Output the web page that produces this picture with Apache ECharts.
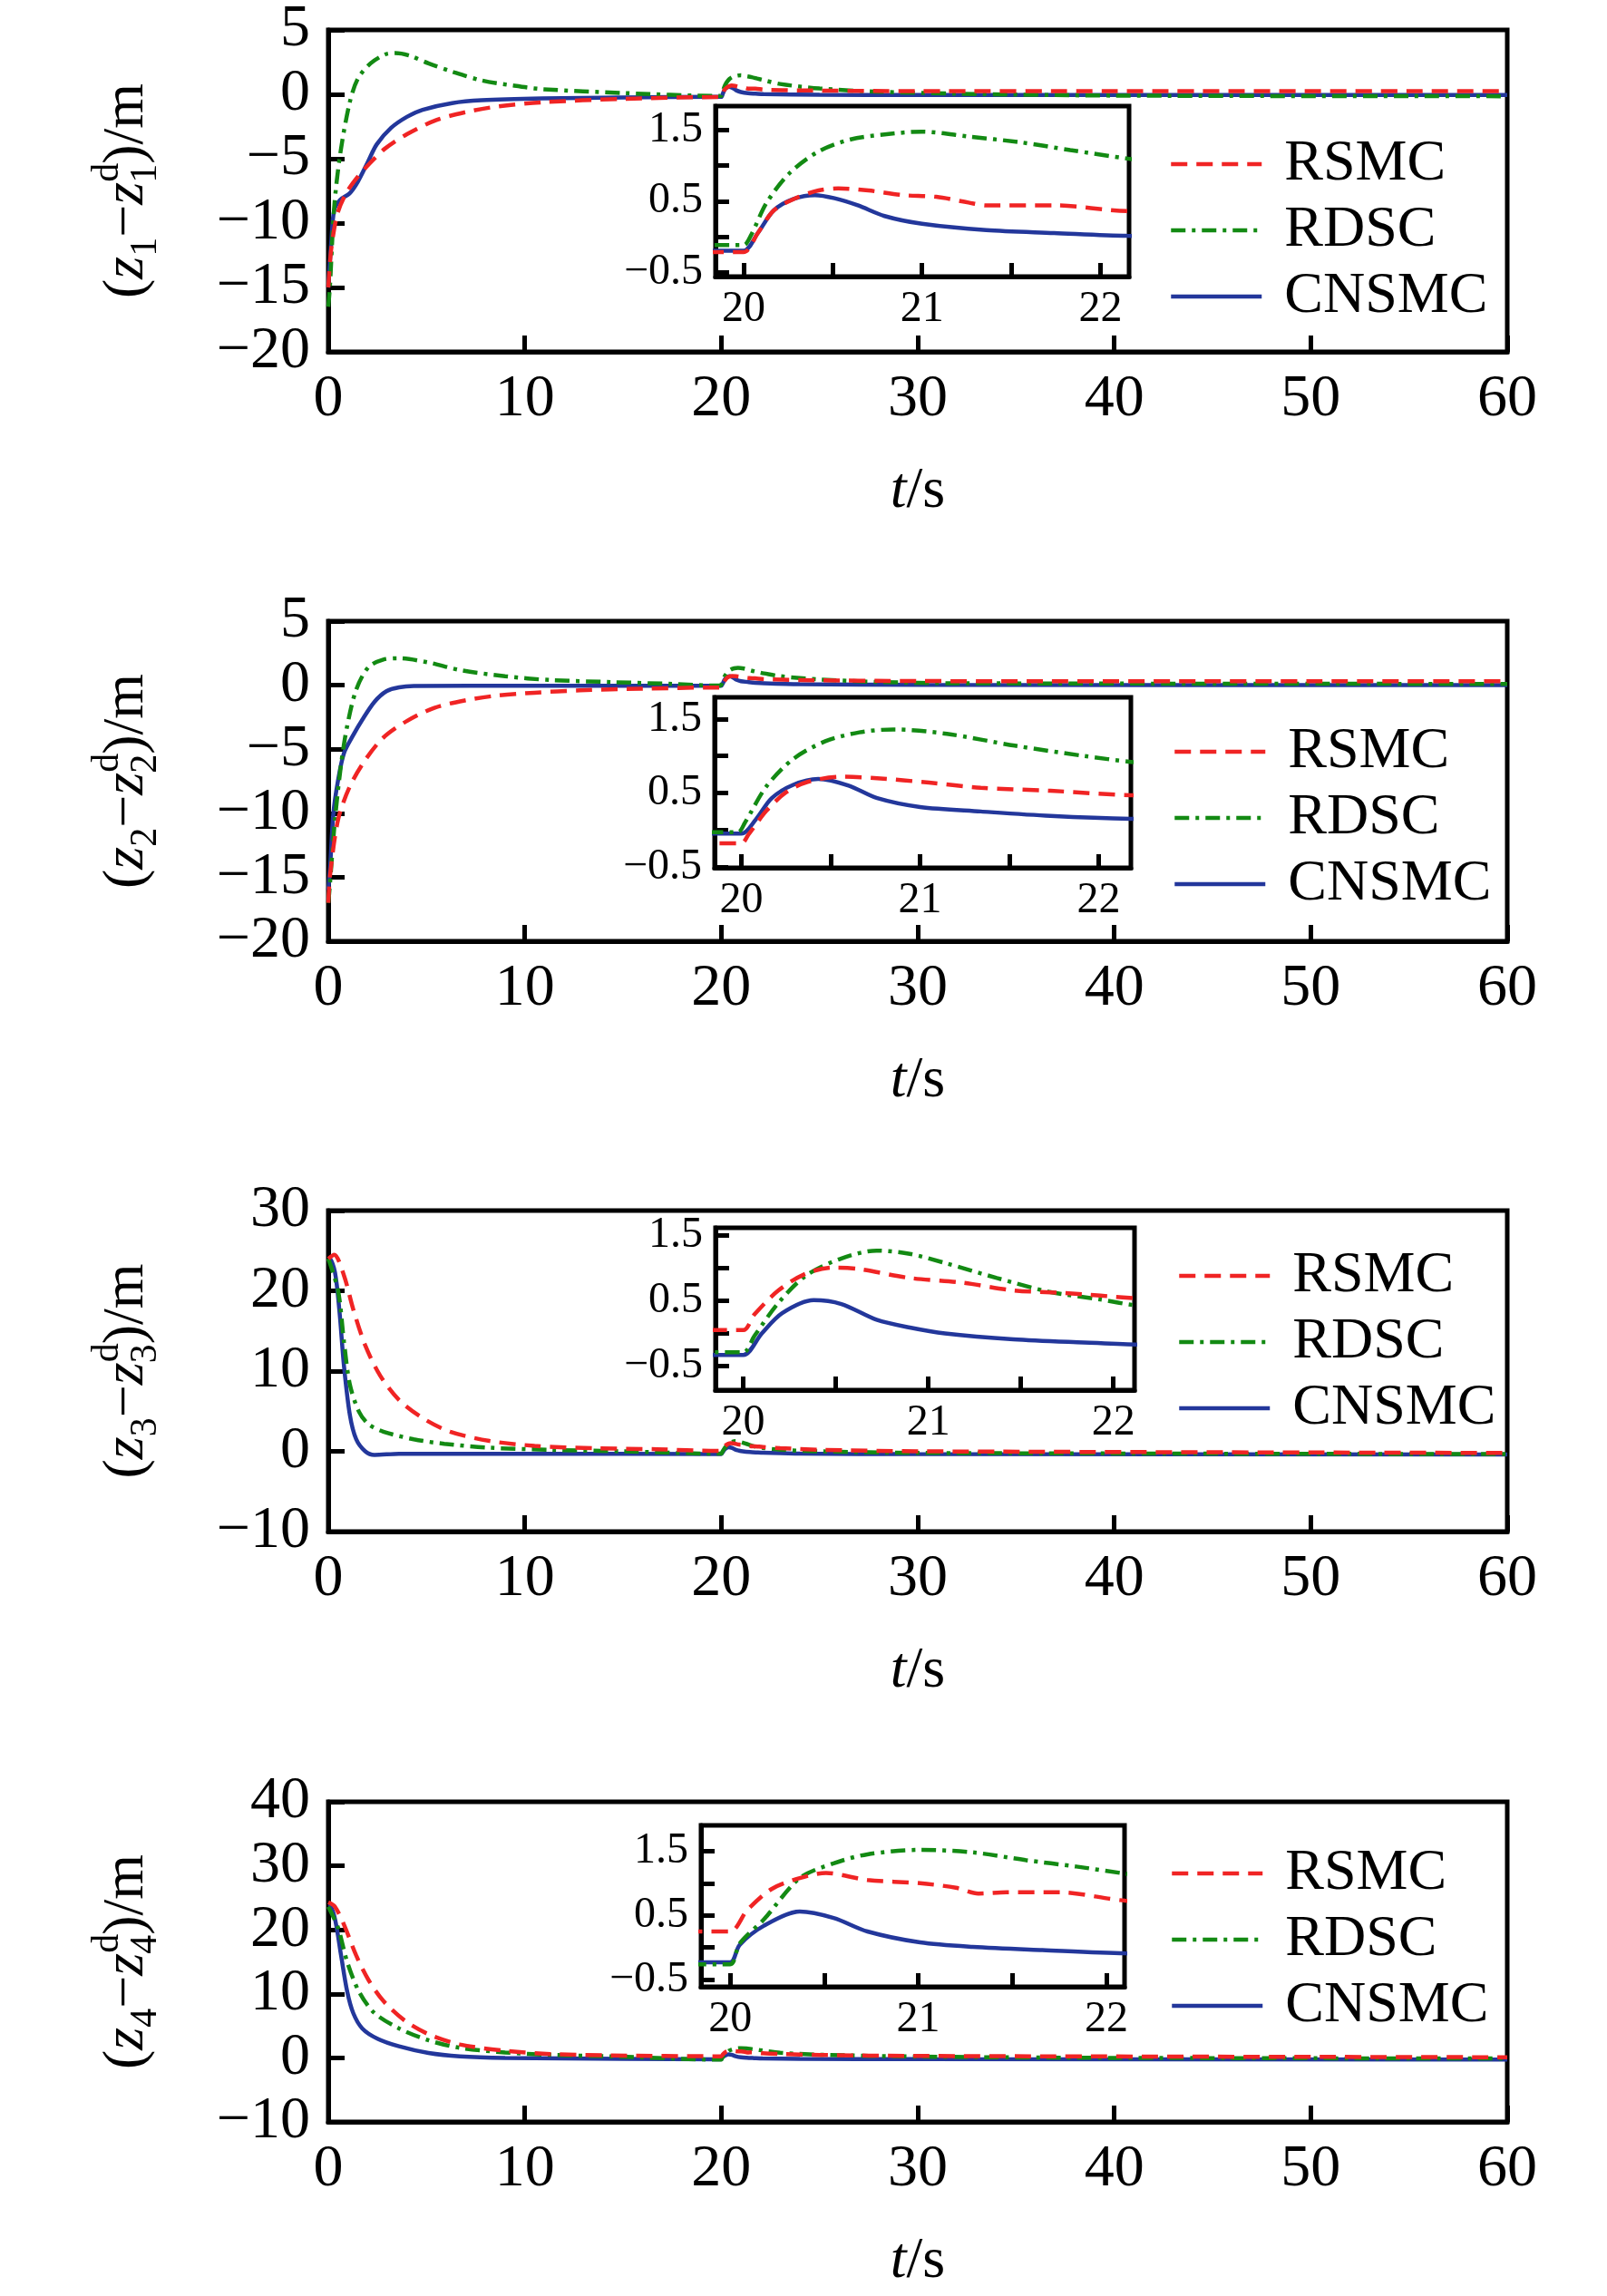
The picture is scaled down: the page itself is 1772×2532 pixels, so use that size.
<!DOCTYPE html>
<html><head><meta charset="utf-8">
<script src="https://cdn.jsdelivr.net/npm/echarts@6/dist/echarts.min.js"></script>
<style>html,body{margin:0;padding:0;background:#fff}#c{width:1772px;height:2532px}</style>
</head><body><div id="c"></div>
<script>
// ---------- labels / ticks ----------
const seriesNames = ['RSMC', 'RDSC', 'CNSMC'];
const insetXLabels = [20, 21, 22];
const insetXTicks = [20, 20.5, 21, 21.5, 22];
const insetYLabels = [-0.5, 0.5, 1.5];
const insetYTicks = [-0.5, 0, 0.5, 1, 1.5];
const mainYRanges = [[-20, 5, 5], [-20, 5, 5], [-10, 30, 10], [-10, 40, 10]];
const insetXRanges = [[19.843, 22.16], [19.85, 22.18], [19.85, 22.114], [19.845, 22.097]];
const insetYRanges = [[-0.564, 1.84], [-0.512, 1.794], [-0.87, 1.62], [-0.61, 1.90]];

// ---------- panel 1 ----------
const p1_RSMC_t = [0, 0.15, 0.46, 0.9, 1.5, 2.15, 2.9, 4, 5.5, 7.1, 8.6, 10.9, 15, 19.8, 20.0, 20.08, 20.17, 20.3, 20.42, 20.53, 20.70, 20.89, 21.08, 21.26, 21.36, 21.74, 22.15, 24, 30, 40, 60];
const p1_RSMC_y = [-15, -12, -9.3, -7.7, -6.4, -5.3, -4.2, -3.1, -2.0, -1.35, -0.95, -0.62, -0.35, -0.22, -0.22, 0.05, 0.37, 0.55, 0.65, 0.68, 0.65, 0.585, 0.56, 0.48, 0.44, 0.44, 0.36, 0.3, 0.25, 0.25, 0.25];
const p1_RDSC_t = [0, 0.08, 0.3, 0.6, 1.08, 1.5, 2.15, 2.9, 3.4, 4.15, 5.1, 6.3, 7.8, 9.4, 10.9, 15, 19.8, 20.0, 20.04, 20.13, 20.26, 20.42, 20.6, 20.79, 21.0, 21.26, 21.55, 21.83, 22.15, 23, 25, 28, 32, 40, 60];
const p1_RDSC_y = [-16.5, -15, -8.8, -4.7, -0.7, 1.2, 2.4, 3.1, 3.2, 3.0, 2.4, 1.76, 1.08, 0.68, 0.4, 0.1, -0.12, -0.12, 0.01, 0.48, 0.9, 1.2, 1.37, 1.44, 1.48, 1.41, 1.33, 1.22, 1.1, 0.8, 0.45, 0.2, 0.05, -0.1, -0.15];
const p1_CNSMC_t = [0, 0.15, 0.3, 0.6, 1.08, 1.5, 2, 2.46, 3.2, 4, 4.8, 6.3, 7.8, 10.9, 15, 19.8, 20.0, 20.08, 20.17, 20.28, 20.40, 20.51, 20.64, 20.79, 21.0, 21.36, 21.74, 22.15, 25, 30, 60];
const p1_CNSMC_y = [-15, -11.5, -9, -8.2, -7.7, -6.8, -5.3, -3.9, -2.6, -1.75, -1.2, -0.68, -0.46, -0.32, -0.25, -0.2, -0.2, 0.05, 0.37, 0.53, 0.585, 0.54, 0.44, 0.29, 0.18, 0.09, 0.05, 0.01, -0.03, -0.05, -0.05];

// ---------- panel 2 ----------
const p2_RSMC_t = [0, 0.1, 0.5, 1.1, 1.9, 2.8, 4.0, 5.4, 7.0, 8.5, 10.5, 12.8, 15.9, 19.8, 20.0, 20.04, 20.14, 20.25, 20.37, 20.56, 20.76, 21.05, 21.34, 21.73, 22.18, 24, 30, 60];
const p2_RSMC_y = [-17, -14.7, -10.5, -7.9, -5.8, -4.1, -2.8, -1.77, -1.18, -0.83, -0.59, -0.4, -0.28, -0.18, -0.18, -0.06, 0.26, 0.51, 0.65, 0.72, 0.70, 0.64, 0.57, 0.53, 0.47, 0.4, 0.32, 0.3];
const p2_RDSC_t = [0, 0.06, 0.34, 0.65, 0.96, 1.42, 2.04, 2.8, 3.58, 5.1, 6.7, 9.0, 11.3, 14.4, 17.5, 19.8, 19.98, 20.02, 20.14, 20.29, 20.47, 20.66, 20.85, 21.15, 21.53, 21.92, 22.18, 23, 25, 28, 32, 60];
const p2_RDSC_y = [-17, -16, -10.5, -6.2, -3.2, -0.35, 1.4, 2.0, 2.1, 1.77, 1.18, 0.7, 0.4, 0.24, 0.1, -0.03, -0.03, 0.10, 0.59, 0.96, 1.2, 1.32, 1.36, 1.3, 1.14, 1.0, 0.92, 0.7, 0.45, 0.25, 0.15, 0.1];
const p2_CNSMC_t = [0, 0.1, 0.26, 0.5, 0.8, 1.27, 1.73, 2.35, 2.96, 3.6, 4.35, 10, 19.8, 20.0, 20.08, 20.17, 20.29, 20.43, 20.6, 20.76, 21.0, 21.34, 21.73, 22.18, 24, 30, 60];
const p2_CNSMC_y = [-16, -14, -10, -7.4, -5.3, -3.9, -2.7, -1.3, -0.47, -0.17, -0.07, -0.05, -0.05, -0.05, 0.14, 0.43, 0.61, 0.69, 0.6, 0.43, 0.31, 0.25, 0.19, 0.15, 0.08, 0.03, 0.0];

// ---------- panel 3 ----------
const p3_RSMC_t = [0, 0.3, 0.8, 1.27, 1.88, 2.65, 3.6, 4.8, 6.2, 8.2, 10.5, 13.6, 16.7, 19.8, 20.0, 20.06, 20.19, 20.34, 20.49, 20.62, 20.9, 21.18, 21.46, 21.74, 22.12, 23, 25, 30, 60];
const p3_RSMC_y = [24, 24.5, 21.9, 17.7, 13.2, 9.4, 6.4, 4.15, 2.45, 1.3, 0.68, 0.38, 0.26, 0.05, 0.05, 0.29, 0.66, 0.92, 1.01, 0.99, 0.85, 0.78, 0.66, 0.62, 0.54, 0.4, 0.2, 0.0, -0.2];
const p3_RDSC_t = [0, 0.5, 0.8, 1.1, 1.57, 2.04, 2.8, 4.35, 5.9, 8.2, 11.3, 15, 19.8, 20.0, 20.06, 20.19, 20.34, 20.53, 20.72, 20.9, 21.09, 21.37, 21.65, 21.93, 22.12, 23, 25, 30, 60];
const p3_RDSC_y = [24, 20, 13.6, 8.3, 4.9, 3.4, 2.45, 1.5, 0.94, 0.45, 0.19, 0.0, -0.29, -0.29, -0.04, 0.47, 0.89, 1.15, 1.27, 1.22, 1.08, 0.85, 0.64, 0.52, 0.43, 0.2, 0.0, -0.2, -0.35];
const p3_CNSMC_t = [0, 0.06, 0.34, 0.57, 0.8, 1.1, 1.42, 1.88, 2.35, 3.6, 10, 19.8, 20.0, 20.1, 20.21, 20.38, 20.53, 20.72, 20.9, 21.09, 21.46, 21.84, 22.12, 24, 30, 60];
const p3_CNSMC_y = [24, 24, 22.3, 17.4, 10.6, 4.5, 1.5, 0, -0.45, -0.3, -0.3, -0.33, -0.33, 0.0, 0.31, 0.51, 0.45, 0.21, 0.09, 0.0, -0.09, -0.14, -0.17, -0.28, -0.35, -0.4];

// ---------- panel 4 ----------
const p4_RSMC_t = [0, 0.34, 0.8, 1.42, 2.04, 2.8, 3.9, 5.1, 6.7, 9, 11.3, 14.4, 19.8, 20.0, 20.09, 20.22, 20.37, 20.51, 20.73, 21.01, 21.2, 21.32, 21.47, 21.75, 22.1, 23, 25, 30, 60];
const p4_RSMC_y = [24.3, 23.6, 20.8, 16, 12.2, 8.9, 5.8, 3.7, 2.1, 1.1, 0.6, 0.38, 0.25, 0.25, 0.58, 0.91, 1.08, 1.16, 1.05, 1.0, 0.93, 0.84, 0.86, 0.86, 0.73, 0.6, 0.45, 0.3, 0.1];
const p4_RDSC_t = [0, 0.5, 0.96, 1.57, 2.35, 3.6, 5.1, 6.7, 9, 11.3, 14.4, 19.8, 20.0, 20.05, 20.18, 20.37, 20.55, 20.73, 21.01, 21.29, 21.57, 21.84, 22.1, 23, 25, 30, 40, 60];
const p4_RDSC_y = [23.6, 20.3, 15, 10.3, 7.0, 4.6, 2.75, 1.56, 0.85, 0.47, 0.24, -0.26, -0.26, 0.06, 0.44, 1.08, 1.31, 1.45, 1.52, 1.48, 1.36, 1.26, 1.15, 0.8, 0.5, 0.2, 0.0, -0.1];
const p4_CNSMC_t = [0, 0.06, 0.34, 0.65, 0.96, 1.27, 1.73, 2.5, 3.6, 5.1, 6.7, 9, 15, 19.8, 20.0, 20.05, 20.18, 20.37, 20.55, 20.73, 21.01, 21.29, 21.66, 22.1, 24, 30, 60];
const p4_CNSMC_y = [23.8, 23.8, 21.7, 16, 10.4, 7.0, 4.6, 3.0, 1.8, 0.76, 0.24, 0.0, -0.15, -0.23, -0.23, 0.04, 0.34, 0.56, 0.46, 0.25, 0.08, 0.01, -0.04, -0.09, -0.15, -0.2, -0.25];

const panels = [
  [[p1_RSMC_t, p1_RSMC_y], [p1_RDSC_t, p1_RDSC_y], [p1_CNSMC_t, p1_CNSMC_y]],
  [[p2_RSMC_t, p2_RSMC_y], [p2_RDSC_t, p2_RDSC_y], [p2_CNSMC_t, p2_CNSMC_y]],
  [[p3_RSMC_t, p3_RSMC_y], [p3_RDSC_t, p3_RDSC_y], [p3_CNSMC_t, p3_CNSMC_y]],
  [[p4_RSMC_t, p4_RSMC_y], [p4_RDSC_t, p4_RDSC_y], [p4_CNSMC_t, p4_CNSMC_y]]
];

// ---------- styling / layout ----------
const F = "'Liberation Serif', 'Times New Roman', serif";
const colors = ['#f02424', '#138a13', '#23379b'];
const dashes = [[18, 10], [16, 7, 4, 7], 'solid'];
const mainGrids = [
  {left: 362, top: 32, width: 1300, height: 356},
  {left: 362, top: 685, width: 1300, height: 353},
  {left: 362, top: 1335, width: 1300, height: 354},
  {left: 362, top: 1987, width: 1300, height: 353}
];
const insetGrids = [
  {left: 789, top: 117, width: 456, height: 188},
  {left: 788, top: 769, width: 459, height: 188},
  {left: 789, top: 1354, width: 462, height: 179},
  {left: 773, top: 2013, width: 467, height: 178}
];
const legendPos = [[1289, 149], [1293, 797], [1298, 1375], [1290, 2034]];

function fmt(v) { return v < 0 ? '\u2212' + String(Math.abs(v)) : String(v); }
const blk = {color: '#000', width: 5};
const baseRich = {
  p: {fontSize: 64, fontFamily: F, color: '#000', lineHeight: 84},
  i: {fontSize: 64, fontFamily: F, color: '#000', fontStyle: 'italic', lineHeight: 84},
  sub: {fontSize: 42, fontFamily: F, color: '#000', verticalAlign: 'bottom', lineHeight: 44},
  sup: {fontSize: 42, fontFamily: F, color: '#000', verticalAlign: 'top', lineHeight: 44},
  subb: {fontSize: 42, fontFamily: F, color: '#000', verticalAlign: 'bottom', lineHeight: 44, padding: [0, 0, 0, -22]}
};

const grid = [], xAxis = [], yAxis = [], series = [], legend = [];
for (let k = 0; k < 4; k++) {
  grid.push(Object.assign({show: true, borderColor: '#000', borderWidth: 5, backgroundColor: 'transparent'}, mainGrids[k]));
  xAxis.push({
    gridIndex: 2 * k, type: 'value', min: 0, max: 60, interval: 10,
    axisLine: {onZero: false, lineStyle: blk}, axisTick: {inside: true, length: 18, lineStyle: blk},
    axisLabel: {color: '#000', fontSize: 66, fontFamily: F, margin: 20, formatter: fmt},
    splitLine: {show: false},
    name: '{i|t}{p|/s}', nameLocation: 'middle', nameGap: 112,
    nameTextStyle: {rich: baseRich}
  });
  const r = mainYRanges[k];
  yAxis.push({
    gridIndex: 2 * k, type: 'value', min: r[0], max: r[1], interval: r[2],
    axisLine: {onZero: false, lineStyle: blk}, axisTick: {inside: true, length: 18, lineStyle: blk},
    axisLabel: {color: '#000', fontSize: 66, fontFamily: F, margin: 20, formatter: fmt},
    splitLine: {show: false},
    name: '{p|(}{i|z}{sub|' + (k + 1) + '}{p|\u2212}{i|z}{sup|d}{subb|' + (k + 1) + '}{p|)/m}',
    nameLocation: 'middle', nameRotate: 90, nameGap: 180,
    nameTextStyle: {rich: baseRich}
  });
  grid.push(Object.assign({show: true, borderColor: '#000', borderWidth: 5, backgroundColor: '#fff'}, insetGrids[k]));
  xAxis.push({
    gridIndex: 2 * k + 1, type: 'value', min: insetXRanges[k][0], max: insetXRanges[k][1],
    axisLine: {onZero: false, lineStyle: blk},
    axisTick: {inside: true, length: 15, lineStyle: blk, customValues: insetXTicks},
    axisLabel: {color: '#000', fontSize: 48, fontFamily: F, margin: 12, customValues: insetXLabels, formatter: fmt},
    splitLine: {show: false}
  });
  yAxis.push({
    gridIndex: 2 * k + 1, type: 'value', min: insetYRanges[k][0], max: insetYRanges[k][1],
    axisLine: {onZero: false, lineStyle: blk},
    axisTick: {inside: true, length: 15, lineStyle: blk, customValues: insetYTicks},
    axisLabel: {color: '#000', fontSize: 48, fontFamily: F, margin: 14, customValues: insetYLabels, formatter: fmt},
    splitLine: {show: false}
  });
  for (let s = 0; s < 3; s++) {
    const [t, y] = panels[k][s];
    const data = t.map((v, j) => [v, y[j]]);
    for (const idx of [2 * k, 2 * k + 1]) {
      series.push({
        type: 'line', name: seriesNames[s], xAxisIndex: idx, yAxisIndex: idx,
        data: data, symbol: 'none', showSymbol: false, smooth: 0.3, clip: true,
        lineStyle: {color: colors[s], width: 4.5, type: dashes[s]},
        itemStyle: {color: colors[s]}, animation: false, z: 3 + (2 - s)
      });
    }
  }
  legend.push({
    orient: 'vertical', left: legendPos[k][0], top: legendPos[k][1], padding: 0,
    itemWidth: 100, itemHeight: 20, itemGap: 9, selectedMode: false,
    data: seriesNames,
    lineStyle: {width: 4.5},
    itemStyle: {color: 'rgba(0,0,0,0)', borderWidth: 0, opacity: 0},
    textStyle: {fontSize: 64, fontFamily: F, color: '#000', lineHeight: 64, padding: [0, 0, 0, 20]}
  });
}

const chart = echarts.init(document.getElementById('c'), null, {renderer: 'canvas'});
chart.setOption({backgroundColor: '#fff', animation: false, grid, xAxis, yAxis, series, legend});
</script></body></html>
